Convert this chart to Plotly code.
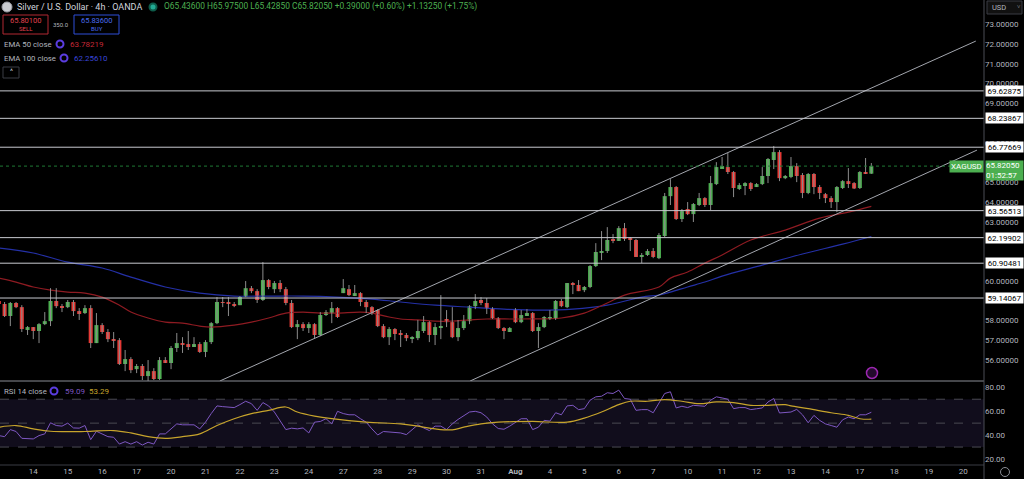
import plotly.graph_objects as go

# ---- data (4h candles, 6 per trading day) ----
days = ["13", "14", "15", "16", "17", "20", "21", "22", "23", "24", "27", "28",
        "29", "30", "31", "Aug", "4", "5", "6", "7", "10", "11", "12", "13", "14",
        "17", "18", "19", "20"]
bars_per_day = 6

opens = [58.99, 58.84, 58.23, 58.89, 58.68, 57.57, 57.67, 57.47, 57.82, 57.97,
         58.99, 58.73, 58.68, 58.94, 58.48, 58.38, 58.63, 56.86, 57.77, 57.42,
         57.06, 57.01, 55.80, 56.05, 55.54, 55.70, 55.19, 55.44, 55.04, 56.00,
         55.85, 56.61, 56.86, 56.81, 56.71, 56.81, 56.41, 56.91, 57.87, 58.94,
         58.89, 58.84, 58.78, 59.19, 59.64, 59.49, 59.04, 60.05, 59.59, 59.90,
         59.59, 58.89, 57.67, 57.82, 57.62, 57.82, 57.27, 58.28, 58.38, 58.63,
         59.39, 59.59, 59.29, 59.39, 58.94, 58.68, 58.53, 57.72, 57.16, 57.57,
         57.32, 57.27, 57.11, 57.11, 57.47, 57.92, 57.27, 57.67, 58.08, 57.92,
         57.16, 57.62, 57.97, 58.73, 59.04, 58.89, 58.63, 58.13, 57.62, 57.42,
         58.58, 57.92, 58.28, 58.38, 57.47, 57.67, 58.08, 58.08, 58.99, 58.68,
         59.90, 59.80, 59.54, 59.70, 60.76, 61.47, 61.52, 62.08, 62.03, 62.68,
         62.13, 62.08, 61.22, 61.32, 61.52, 61.16, 62.28, 64.30, 64.76, 63.14,
         63.65, 63.39, 63.85, 64.20, 63.85, 64.91, 65.72, 65.77, 65.52, 64.66,
         64.86, 64.96, 64.76, 64.91, 65.32, 66.13, 66.53, 65.21, 65.27, 65.82,
         65.37, 64.46, 65.42, 64.76, 64.40, 64.20, 64.00, 64.71, 65.06, 64.96,
         64.71, 65.52, 65.436]
highs = [59.04, 58.94, 58.94, 58.94, 58.78, 57.72, 57.67, 57.87, 58.43, 59.64,
         59.64, 58.84, 59.04, 59.04, 58.63, 58.78, 58.78, 58.38, 57.87, 57.57,
         57.42, 57.11, 56.51, 56.15, 55.80, 55.80, 56.00, 55.59, 56.15, 56.15,
         56.71, 57.37, 57.16, 57.47, 57.16, 56.91, 57.01, 57.92, 59.19, 59.19,
         59.19, 58.94, 59.24, 60.00, 59.75, 59.59, 60.96, 60.10, 60.00, 60.05,
         59.70, 59.04, 58.03, 57.92, 57.92, 57.87, 58.43, 58.53, 58.94, 58.68,
         60.10, 59.80, 59.80, 59.44, 59.04, 58.73, 58.58, 57.82, 57.67, 57.62,
         57.52, 57.37, 57.21, 58.03, 58.23, 57.97, 57.87, 59.29, 58.53, 58.68,
         58.03, 58.28, 58.78, 59.34, 59.19, 59.14, 58.68, 58.18, 57.67, 57.67,
         58.63, 58.53, 58.58, 58.43, 57.87, 58.23, 58.53, 59.04, 59.09, 59.90,
         59.95, 60.05, 59.75, 60.81, 61.92, 62.53, 62.73, 62.38, 62.78, 62.94,
         62.23, 62.13, 61.42, 61.62, 61.67, 62.43, 64.46, 65.16, 64.81, 63.65,
         64.00, 63.95, 64.46, 64.25, 65.32, 66.02, 66.28, 66.48, 65.57, 64.96,
         65.01, 65.01, 64.96, 65.77, 66.23, 66.84, 66.63, 65.37, 66.28, 65.97,
         65.47, 65.47, 65.47, 64.86, 64.46, 64.30, 64.81, 65.11, 65.72, 65.01,
         65.57, 66.23, 65.975]
lows = [58.78, 58.18, 57.72, 58.63, 57.42, 57.27, 57.06, 56.86, 57.77, 57.72,
        58.63, 58.43, 58.63, 58.23, 58.03, 58.33, 56.61, 56.86, 57.32, 56.91,
        56.61, 55.75, 55.44, 55.34, 55.34, 54.99, 54.94, 54.99, 54.99, 55.85,
        55.54, 56.41, 56.36, 56.51, 56.66, 56.36, 56.15, 56.81, 57.82, 58.68,
        58.23, 58.68, 58.78, 59.19, 59.39, 58.89, 58.99, 59.59, 59.39, 59.44,
        58.78, 57.62, 57.06, 57.47, 57.37, 57.11, 57.21, 58.23, 57.87, 58.13,
        59.39, 59.24, 59.24, 58.73, 58.38, 58.28, 57.67, 57.11, 56.76, 57.01,
        56.66, 56.96, 56.86, 57.01, 57.37, 56.91, 56.76, 57.06, 57.67, 57.11,
        56.96, 57.52, 57.82, 58.58, 58.78, 58.33, 58.08, 57.57, 57.06, 57.42,
        57.87, 57.87, 58.23, 57.42, 56.61, 57.62, 58.03, 58.03, 58.68, 58.63,
        59.34, 59.49, 59.44, 59.64, 60.71, 61.06, 61.42, 61.92, 62.03, 62.03,
        61.52, 61.22, 60.91, 61.27, 61.16, 61.11, 62.23, 63.85, 63.09, 62.99,
        63.34, 62.99, 63.80, 63.75, 63.59, 64.86, 65.72, 65.42, 64.25, 64.61,
        64.35, 64.56, 64.76, 64.86, 64.96, 65.67, 65.06, 65.16, 65.21, 65.01,
        64.20, 64.40, 64.40, 64.15, 63.95, 63.70, 63.49, 64.66, 64.71, 64.66,
        64.66, 65.42, 65.4285]
closes = [58.84, 58.23, 58.89, 58.68, 57.57, 57.67, 57.47, 57.82, 57.97, 58.99,
          58.73, 58.68, 58.94, 58.48, 58.38, 58.63, 56.86, 57.77, 57.42, 57.06,
          57.01, 55.80, 56.05, 55.49, 55.70, 55.19, 55.44, 55.04, 56.00, 55.85,
          56.61, 56.86, 56.81, 56.71, 56.81, 56.41, 56.91, 57.87, 58.94, 58.89,
          58.84, 58.78, 59.19, 59.64, 59.49, 59.04, 60.05, 59.70, 59.90, 59.59,
          58.89, 57.67, 57.82, 57.62, 57.82, 57.27, 58.28, 58.43, 58.63, 58.18,
          59.64, 59.29, 59.39, 58.94, 58.68, 58.38, 57.72, 57.16, 57.57, 57.32,
          57.27, 57.11, 57.16, 57.47, 57.92, 57.27, 57.67, 57.72, 57.92, 57.16,
          57.62, 57.97, 58.73, 58.99, 58.89, 58.63, 58.13, 57.62, 57.47, 57.62,
          57.92, 58.28, 58.38, 57.47, 57.67, 58.18, 58.18, 58.99, 58.73, 59.90,
          59.85, 59.49, 59.70, 60.76, 61.47, 61.52, 62.08, 62.03, 62.68, 62.13,
          62.08, 61.22, 61.32, 61.52, 61.22, 62.33, 64.30, 64.76, 63.14, 63.54,
          63.39, 63.90, 64.20, 63.85, 64.96, 65.77, 65.82, 65.52, 64.71, 64.86,
          64.96, 64.66, 64.91, 65.32, 66.18, 66.53, 65.21, 65.32, 65.82, 65.32,
          64.46, 65.42, 64.76, 64.46, 64.20, 64.00, 64.76, 65.06, 64.96, 64.688,
          65.52, 65.4305, 65.8205]

ema50_idx = [0, 3, 6, 9, 12, 15, 18, 21, 23, 26, 29, 32, 35, 37, 41, 44, 47, 50,
             53, 56, 59, 63, 65, 68, 70, 73, 76, 79, 82, 85, 91, 98, 102, 106,
             109, 115, 117, 120, 123, 126, 131, 137, 143, 148, 152]
ema50_val = [60.15, 59.95, 59.70, 59.54, 59.44, 59.39, 59.19, 58.78, 58.43, 58.13,
             57.92, 57.87, 57.72, 57.67, 57.77, 57.92, 58.13, 58.38, 58.43, 58.38,
             58.38, 58.43, 58.38, 58.18, 58.08, 58.03, 57.97, 57.97, 58.03, 58.08,
             58.08, 58.13, 58.38, 58.89, 59.29, 59.70, 60.15, 60.46, 60.91, 61.32,
             62.08, 62.58, 63.19, 63.49, 63.78219]
ema100_idx = [0, 6, 12, 18, 23, 29, 35, 41, 47, 53, 59, 65, 70, 76, 82, 88, 94,
              100, 106, 112, 115, 117, 120, 123, 126, 133, 140, 147, 152]
ema100_val = [61.67, 61.42, 60.96, 60.66, 60.20, 59.70, 59.39, 59.24, 59.24, 59.24,
              59.19, 59.09, 58.94, 58.78, 58.68, 58.58, 58.53, 58.58, 58.78, 59.19,
              59.29, 59.44, 59.70, 59.95, 60.25, 60.81, 61.37, 61.87, 62.2561]

rsi = [39.6, 38.7, 44.6, 43.0, 37.3, 37.0, 36.8, 39.6, 41.0, 50.3, 48.0, 47.5, 50.0,
       46.0, 45.8, 48.0, 36.2, 43.2, 41.0, 38.7, 38.2, 32.5, 34.5, 32.5, 34.5,
       31.7, 34.0, 32.5, 41.0, 41.0, 45.2, 49.4, 48.6, 48.6, 48.6, 45.2, 50.8,
       58.0, 64.4, 63.8, 63.5, 63.0, 65.5, 68.3, 66.3, 60.7, 67.2, 64.4, 59.3,
       52.0, 44.6, 45.8, 45.2, 46.0, 41.8, 50.8, 51.4, 53.7, 49.4, 59.9, 58.0,
       57.0, 57.0, 53.7, 50.8, 45.2, 40.1, 43.0, 42.4, 41.8, 41.8, 40.4, 44.6,
       48.6, 46.0, 43.8, 47.5, 47.5, 44.6, 49.4, 53.1, 56.0, 59.3, 59.9, 58.7,
       55.1, 49.4, 45.5, 44.9, 47.5, 50.3, 53.7, 53.7, 44.6, 46.6, 52.3, 51.7,
       58.7, 57.0, 64.4, 64.9, 61.3, 62.1, 69.2, 72.0, 72.5, 75.4, 74.8, 77.6,
       70.6, 70.0, 60.7, 61.3, 61.3, 58.7, 66.3, 74.8, 76.2, 62.7, 64.1, 63.0,
       64.9, 64.5, 64.1, 69.2, 72.0, 71.1, 70.0, 62.1, 63.0, 63.0, 61.3, 62.0,
       62.7, 67.7, 70.6, 58.5, 59.0, 59.3, 61.5, 57.0, 50.3, 56.5, 52.3, 49.4,
       48.0, 46.6, 52.8, 55.1, 53.7, 57.0, 57.0, 59.09]
rsi_ma_idx = [0, 3, 6, 9, 15, 20, 23, 26, 29, 32, 35, 38, 41, 44, 47, 50, 52, 55,
              58, 64, 70, 73, 76, 79, 81, 84, 87, 93, 99, 102, 105, 108, 110, 113,
              116, 119, 122, 125, 128, 131, 134, 137, 138, 141, 145, 148, 150, 152]
rsi_ma_val = [46.6, 48.0, 45.2, 43.2, 43.0, 43.8, 41.8, 38.7, 37.3, 38.7, 41.0, 48.0,
              53.7, 57.9, 60.7, 63.5, 59.3, 55.9, 53.7, 50.8, 49.4, 47.5, 45.2, 44.4,
              46.6, 49.4, 50.8, 51.4, 50.8, 54.2, 59.3, 65.5, 68.3, 68.3, 69.7, 68.3,
              66.3, 67.7, 67.2, 64.9, 64.9, 65.5, 64.4, 62.1, 58.7, 56.5, 53.7, 53.29]

levels = [69.62875, 68.23867, 66.77669, 63.56513, 62.19902, 60.90481, 59.14067]
channel_upper = [(38.5, 54.94), (170.2, 72.15)]
channel_lower = [(82.1, 54.94), (170.4, 66.63)]

# scale ticks; the ones sitting right under a level tag are covered in the original
price_ticks = [56, 57, 58, 60, 63, 64, 65, 67, 69, 70, 71, 72, 73]
rsi_ticks = [20, 40, 60, 80]

# ---- styling ----
BG = "#000000"
UP = "#4caf50"
DN = "#e53935"
WICK = "#8c8c8c"
TXT = "#b2b5be"
FONT = "Roboto"
FS = 8  # most chart text

W, H = 1024, 479
SCALE_W = 40
PW = W - SCALE_W


def px(x):
    return x / PW


def py(y):
    return 1 - y / H


n = len(opens)
idx = list(range(n))
x_range = [0.2, 0.2 + PW / 5.74]

fig = go.Figure()

# EMAs
fig.add_trace(go.Scatter(x=ema100_idx, y=ema100_val, mode="lines",
                         line=dict(color="#2430a6", width=1.2, shape="spline")))
fig.add_trace(go.Scatter(x=ema50_idx, y=ema50_val, mode="lines",
                         line=dict(color="#8e1b22", width=1.2, shape="spline")))

# wicks
wx, wy = [], []
for i in idx:
    wx += [i, i, None]
    wy += [lows[i], highs[i], None]
fig.add_trace(go.Scatter(x=wx, y=wy, mode="lines", line=dict(color=WICK, width=1)))

# bodies
for is_up, col in [(True, UP), (False, DN)]:
    xs = [i for i in idx if (closes[i] >= opens[i]) == is_up]
    fig.add_trace(go.Bar(
        x=xs,
        base=[min(opens[i], closes[i]) for i in xs],
        y=[max(abs(closes[i] - opens[i]), 0.05) for i in xs],
        width=0.7, marker=dict(color=col, line=dict(width=0))))

# channel
for seg in (channel_upper, channel_lower):
    fig.add_trace(go.Scatter(x=[p[0] for p in seg], y=[p[1] for p in seg], mode="lines",
                             line=dict(color="#a3a6ae", width=1)))

# RSI
fig.add_trace(go.Scatter(x=idx[:len(rsi)], y=rsi, mode="lines", xaxis="x2", yaxis="y2",
                         line=dict(color="#7e57c2", width=1)))
fig.add_trace(go.Scatter(x=rsi_ma_idx, y=rsi_ma_val, mode="lines", xaxis="x2", yaxis="y2",
                         line=dict(color="#c7a42c", width=1.2, shape="spline")))

shapes = []
annotations = []

# RSI band and guide lines
shapes.append(dict(type="rect", xref="x2 domain", yref="y2", x0=0, x1=1, y0=30, y1=70,
                   fillcolor="#110d1c", line=dict(width=0), layer="below"))
for v in (70, 50, 30):
    shapes.append(dict(type="line", xref="x2 domain", yref="y2", x0=0, x1=1, y0=v, y1=v,
                       line=dict(color="#4a4a52", width=1, dash="dash"), layer="below"))

# horizontal levels with scale labels
for lv in levels:
    shapes.append(dict(type="line", xref="x domain", yref="y", x0=0, x1=1, y0=lv, y1=lv,
                       line=dict(color="#c8cad0", width=1)))
    annotations.append(dict(xref="paper", yref="y", x=1, y=lv, xanchor="left", yanchor="middle",
                            text=f"{lv:.5f}", showarrow=False, bgcolor="#ffffff",
                            font=dict(color="#000000", size=FS, family=FONT),
                            width=37, height=10, borderpad=0, xshift=1))

# current price line and labels
last = closes[-1]
shapes.append(dict(type="line", xref="x domain", yref="y", x0=0, x1=1, y0=last, y1=last,
                   line=dict(color="#1f7a35", width=1, dash="dot")))
annotations.append(dict(xref="paper", yref="y", x=1, y=last, xanchor="left", yanchor="top",
                        text=f"{last:.5f}<br>01:52:57", showarrow=False, bgcolor=UP,
                        font=dict(color="#ffffff", size=FS, family=FONT),
                        width=37, height=19, borderpad=0, xshift=1, yshift=6, align="left"))
annotations.append(dict(xref="paper", yref="y", x=1, y=last, xanchor="right", yanchor="middle",
                        text="XAGUSD", showarrow=False, bgcolor=UP,
                        font=dict(color="#ffffff", size=FS, family=FONT), borderpad=1))

# panel separators and scale border
shapes.append(dict(type="line", xref="paper", yref="paper", x0=0, x1=1, y0=py(381), y1=py(381),
                   line=dict(color="#8a8d95", width=1)))
shapes.append(dict(type="line", xref="paper", yref="paper", x0=0, x1=1, y0=py(465), y1=py(465),
                   line=dict(color="#3a3d45", width=1)))
shapes.append(dict(type="line", xref="paper", yref="paper", x0=1, x1=1, y0=0, y1=1,
                   line=dict(color="#4a4d55", width=1)))


def text(x, y, s, color=TXT, size=FS, anchor="left"):
    annotations.append(dict(xref="paper", yref="paper", x=px(x), y=py(y), text=s,
                            xanchor=anchor, yanchor="middle", showarrow=False,
                            font=dict(color=color, size=size, family=FONT)))


def circle(cx, cy, r, line, fill="rgba(0,0,0,0)", width=1.5):
    shapes.append(dict(type="circle", xref="paper", yref="paper",
                       x0=px(cx - r), x1=px(cx + r), y0=py(cy + r), y1=py(cy - r),
                       line=dict(color=line, width=width), fillcolor=fill))


def box(x0, y0, x1, y1, line, fill="rgba(0,0,0,0)"):
    shapes.append(dict(type="rect", xref="paper", yref="paper",
                       x0=px(x0), x1=px(x1), y0=py(y1), y1=py(y0),
                       line=dict(color=line, width=1), fillcolor=fill))


# header
o, h, l, c = opens[-1], highs[-1], lows[-1], closes[-1]
chg = c - closes[-2]
dchg = c - closes[149]
circle(7, 7, 5, "#9a9ca3", fill="#c9cbd0", width=1)
text(15, 7, "Silver / U.S. Dollar · 4h · OANDA", color="#d1d4dc", size=9)
circle(153, 7, 3.5, "#0d5c4a", fill="#22ab94", width=2)
text(162, 7, f"O{o:.5f} H{h:.5f} L{l:.5f} C{c:.5f} {chg:+.5f} ({chg / closes[-2] * 100:+.2f}%) "
             f"{dchg:+.5f} ({dchg / closes[149] * 100:+.2f}%)", color=UP, size=8.4)

box(3, 15, 48, 34, "#b22833")
text(25.5, 21, "65.80100", color="#e0424f", size=7.5, anchor="center")
text(25.5, 29, "SELL", color="#e0424f", size=6, anchor="center")
text(61, 24, "350.0", color=TXT, size=6, anchor="center")
box(74, 15, 119, 34, "#2f4fd8")
text(96.5, 21, "65.83600", color="#4a6cf0", size=7.5, anchor="center")
text(96.5, 29, "BUY", color="#4a6cf0", size=6, anchor="center")

text(2, 44, "EMA 50 close", size=7.8)
circle(60, 44, 3.5, "#5b3de0", width=2)
text(68, 44, f"{ema50_val[-1]:.5f}", color="#c62836", size=FS)
text(2, 58, "EMA 100 close", size=7.8)
circle(64, 58, 3.5, "#5b3de0", width=2)
text(72, 58, f"{ema100_val[-1]:.5f}", color="#3a46d8", size=FS)
box(3, 67, 19, 78, "#3a3d45")
text(11, 72, "^", color="#d1d4dc", size=7, anchor="center")

text(2, 391, "RSI 14 close", size=7.8)
circle(54, 391, 3.5, "#5b3de0", width=2)
text(63, 391, f"{rsi[-1]:.2f}", color="#7e57c2", size=FS)
text(87, 391, f"{rsi_ma_val[-1]:.2f}", color="#c7a42c", size=FS)

# scale corner bits
box(987, 1, 1022, 14, "#3a3d45", fill="#111111")
text(990, 7.5, "USD", color=TXT, size=7.5)
text(1015, 7, "˅", color=TXT, size=6)
circle(1005, 472, 4.5, "#8a8d95", width=1)
circle(872, 373, 5.5, "#9c27b0", fill="#230a2c", width=1.5)

tick_text = []
for d in days:
    tick_text.append("<b>Aug</b>" if d == "Aug" else d)

fig.update_layout(
    width=W, height=H,
    paper_bgcolor=BG, plot_bgcolor=BG,
    margin=dict(l=0, r=SCALE_W, t=0, b=0),
    showlegend=False, hovermode=False, barmode="overlay",
    font=dict(family=FONT, color=TXT, size=FS),
    shapes=shapes, annotations=annotations,
    xaxis=dict(domain=[0, 1], range=x_range, anchor="y", showgrid=False, zeroline=False,
               showticklabels=False, fixedrange=True),
    yaxis=dict(domain=[py(381), 1], range=[54.94, 74.23], side="right", anchor="x",
               showgrid=False, zeroline=False, tickvals=price_ticks,
               ticktext=[f"{v:.5f}" for v in price_ticks],
               tickfont=dict(color=TXT, size=FS, family=FONT), ticks=""),
    xaxis2=dict(domain=[0, 1], range=x_range, anchor="y2", showgrid=False, zeroline=False,
                tickvals=[i * bars_per_day for i in range(len(days))], ticktext=tick_text,
                tickfont=dict(color=TXT, size=FS, family=FONT), ticks=""),
    yaxis2=dict(domain=[py(465), py(382)], range=[15, 84.4], side="right", anchor="x2",
                showgrid=False, zeroline=False, tickvals=rsi_ticks,
                ticktext=[f"{v:.2f}" for v in rsi_ticks],
                tickfont=dict(color=TXT, size=FS, family=FONT), ticks=""),
)

fig.write_html("out.html", config={"displayModeBar": False},
               post_script="document.body.style.margin='0';document.body.style.background='#000';")
